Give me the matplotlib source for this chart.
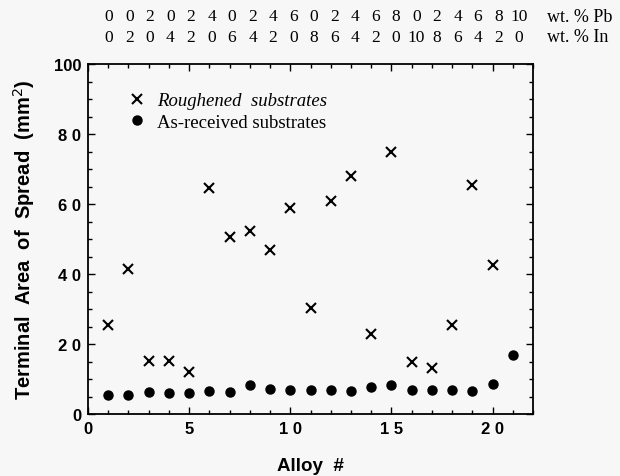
import matplotlib
matplotlib.use("Agg")
import matplotlib.pyplot as plt
from matplotlib.ticker import MultipleLocator

# alloy numbers and measured spread areas (mm^2)
alloy_rough = list(range(1, 21))
area_rough = [25.5, 41.5, 15.2, 15.2, 12.1, 64.7, 50.6, 52.3, 46.9, 58.9,
              30.4, 60.8, 68.1, 23.0, 74.8, 15.0, 13.1, 25.5, 65.4, 42.6]

alloy_asrec = list(range(1, 22))
area_asrec = [5.5, 5.4, 6.2, 5.9, 6.1, 6.7, 6.2, 8.3, 7.1, 6.9,
              6.9, 7.0, 6.7, 7.8, 8.3, 6.8, 6.8, 6.8, 6.7, 8.6, 16.9]

# composition header above the plot
pb_wt = ["0", "0", "2", "0", "2", "4", "0", "2", "4", "6", "0",
         "2", "4", "6", "8", "0", "2", "4", "6", "8", "10"]
in_wt = ["0", "2", "0", "4", "2", "0", "6", "4", "2", "0", "8",
         "6", "4", "2", "0", "10", "8", "6", "4", "2", "0"]

xticks = [0, 5, 10, 15, 20]
xtick_labels = ["0", "5", "1 0", "1 5", "2 0"]
yticks = [0, 20, 40, 60, 80, 100]
ytick_labels = ["0", "2 0", "4 0", "6 0", "8 0", "100"]

bg = "#f7f7f7"
serif = "Liberation Serif"
sans = "Liberation Sans"
W, H = 620, 477

fig = plt.figure(figsize=(6.2, 4.77), dpi=100, facecolor=bg)
ax = fig.add_axes([88 / W, 1 - 415 / H, 445 / W, 350 / H], facecolor=bg)

ax.plot(alloy_rough, area_rough, ls="none", marker="x", ms=7.5, mew=1.5,
        color="black", label="Roughened  substrates")
ax.plot(alloy_asrec, area_asrec, ls="none", marker="o", ms=6.5,
        color="black", label="As-received substrates")

ax.set_xlim(0, 22)
ax.set_ylim(0, 100)
ax.set_xticks(xticks)
ax.set_xticklabels(xtick_labels)
ax.set_yticks(yticks)
ax.set_yticklabels(ytick_labels)
ax.xaxis.set_minor_locator(MultipleLocator(1))
ax.yaxis.set_minor_locator(MultipleLocator(5))
ax.tick_params(which="both", direction="in", top=True, right=True, width=1.0)
ax.tick_params(which="major", length=5)
ax.tick_params(which="minor", length=3)
for lab in ax.get_xticklabels() + ax.get_yticklabels():
    lab.set_fontfamily(sans)
    lab.set_fontweight("bold")
    lab.set_fontsize(12)
ax.tick_params(axis="x", pad=5)
ax.tick_params(axis="y", pad=5)
for sp in ax.spines.values():
    sp.set_linewidth(1.3)

ax.set_xlabel("Alloy  #", family=sans, weight="bold", fontsize=13.5, labelpad=15)
ax.set_ylabel("Terminal  Area  of  Spread  (mm$^2$)", family=sans, weight="bold",
              fontsize=14.5, labelpad=12)

leg = ax.legend(loc="upper left", bbox_to_anchor=(0.05, 0.968), frameon=False,
                prop={"family": serif, "size": 13.5}, handletextpad=0.5,
                labelspacing=0.25, handlelength=1.1)
leg.get_texts()[0].set_style("italic")

# composition rows: first column at x=109 px, 20.5 px apart
for i, (pb, inn) in enumerate(zip(pb_wt, in_wt)):
    xf = (109 + i * 20.5) / W
    fig.text(xf, 1 - 17 / H, pb, ha="center", va="center",
             family=serif, fontsize=12.5)
    fig.text(xf, 1 - 38 / H, inn, ha="center", va="center",
             family=serif, fontsize=12.5)
fig.text(547 / W, 1 - 17 / H, "wt. % Pb", ha="left", va="center",
         family=serif, fontsize=13)
fig.text(547 / W, 1 - 38 / H, "wt. % In", ha="left", va="center",
         family=serif, fontsize=13)

fig.savefig("out.png", dpi=100, facecolor=bg)
